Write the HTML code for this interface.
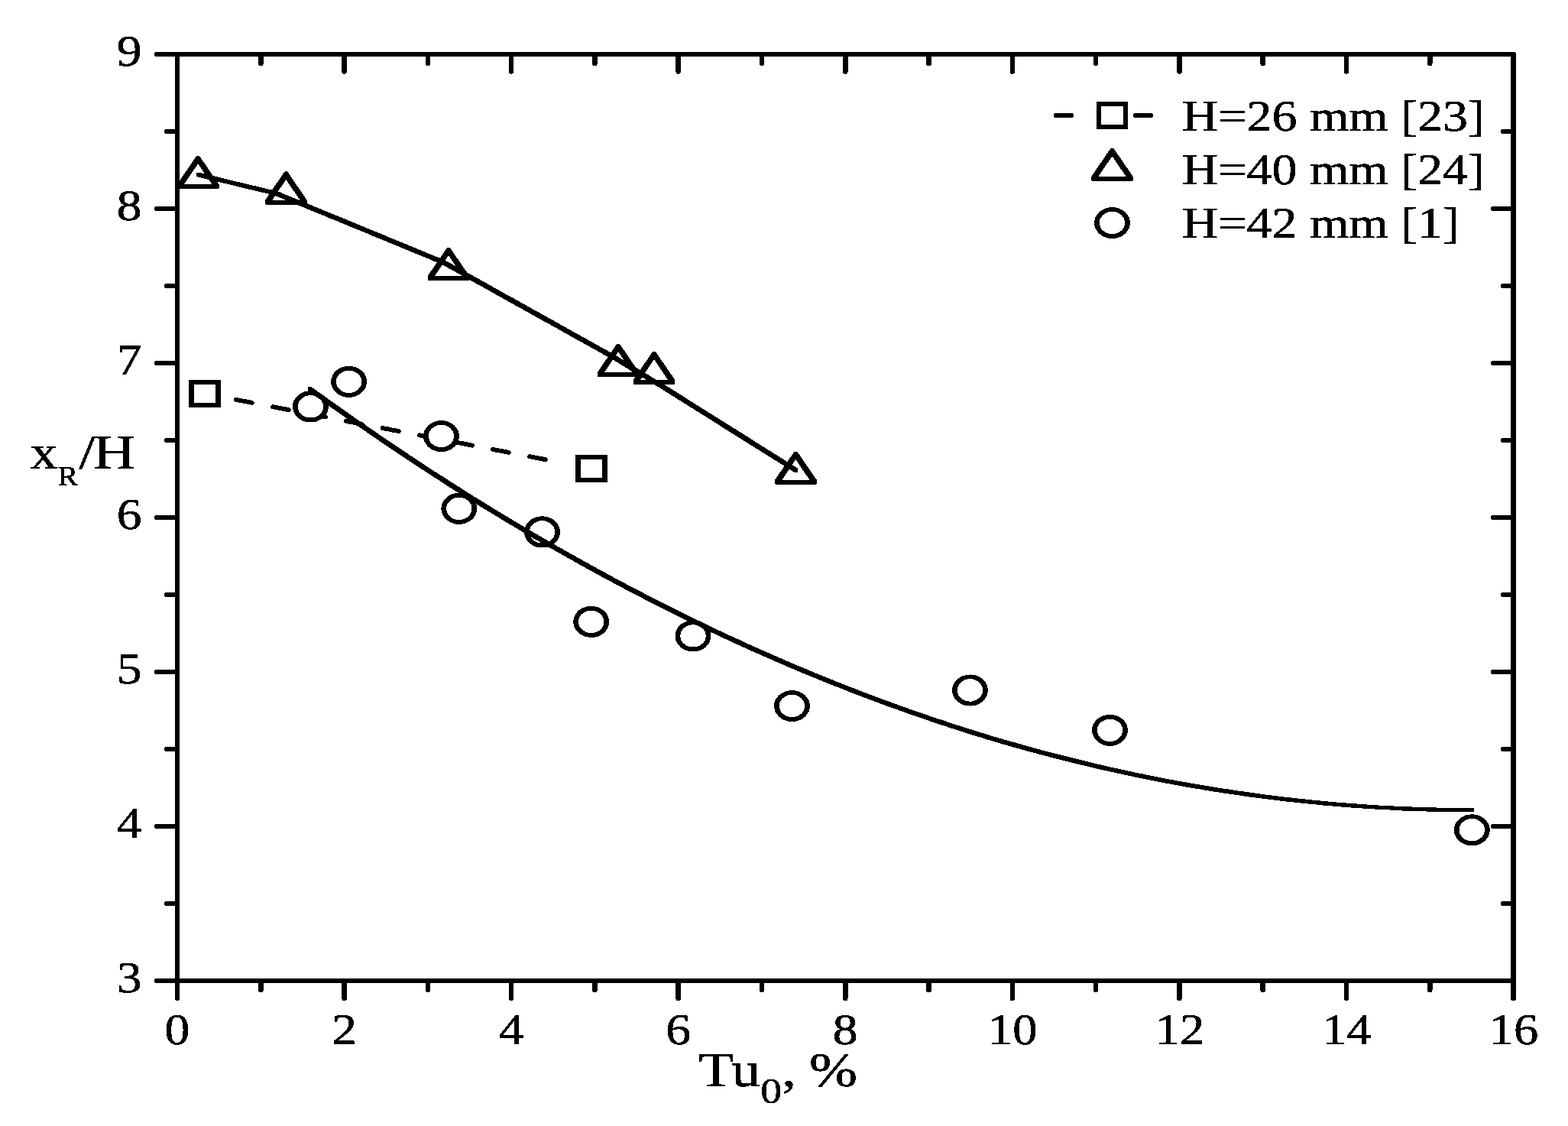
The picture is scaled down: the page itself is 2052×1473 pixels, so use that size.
<!DOCTYPE html>
<html lang="en"><head><meta charset="utf-8"><title>xR/H vs Tu0</title>
<style>html,body{margin:0;padding:0;background:#fff;overflow:hidden}svg{display:block}text{font-family:"Liberation Serif",serif;fill:#000;stroke:#000;stroke-width:0.55px;stroke-linejoin:round}</style>
</head><body>
<svg width="2052" height="1473" viewBox="0 0 2052 1473" role="img" aria-label="Reattachment length versus free-stream turbulence">
<defs><filter id="bw" filterUnits="userSpaceOnUse" x="0" y="0" width="2052" height="1473" color-interpolation-filters="sRGB"><feComponentTransfer><feFuncR type="discrete" tableValues="0 1"/><feFuncG type="discrete" tableValues="0 1"/><feFuncB type="discrete" tableValues="0 1"/></feComponentTransfer></filter></defs>
<g filter="url(#bw)">
<rect width="2052" height="1473" fill="#fff"/>
<g fill="none" stroke="#000" stroke-linecap="round">
<path d="M308.90 522.91L714.20 601.31" stroke-width="5.9" stroke-dasharray="21.39 27.50"/>
</g>
<g fill="#fff" stroke="#000" stroke-width="5.9" stroke-linejoin="miter">
<rect x="-15.25" y="-15.05" width="30.5" height="30.1" transform="translate(268.00 515.00) scale(1.14 1)"/>
<rect x="-15.25" y="-15.05" width="30.5" height="30.1" transform="translate(774.10 612.90) scale(1.14 1)"/>
</g>
<g fill="#000" fill-rule="evenodd" stroke="none">
<path d="M257.20 203.90L261.00 203.90L286.55 241.20L286.55 245.70L285.30 246.90L232.90 246.90L231.65 245.70L231.65 241.20ZM259.10 214.20L277.25 241.00L240.95 241.00Z"/>
<path d="M372.40 224.60L376.20 224.60L401.75 261.90L401.75 266.40L400.50 267.60L348.10 267.60L346.85 266.40L346.85 261.90ZM374.30 234.90L392.45 261.70L356.15 261.70Z"/>
<path d="M585.10 323.90L588.90 323.90L614.45 361.20L614.45 365.70L613.20 366.90L560.80 366.90L559.55 365.70L559.55 361.20ZM587.00 334.20L605.15 361.00L568.85 361.00Z"/>
<path d="M807.20 450.00L811.00 450.00L836.55 487.30L836.55 491.80L835.30 493.00L782.90 493.00L781.65 491.80L781.65 487.30ZM809.10 460.30L827.25 487.10L790.95 487.10Z"/>
<path d="M854.10 460.00L857.90 460.00L883.45 497.30L883.45 501.80L882.20 503.00L829.80 503.00L828.55 501.80L828.55 497.30ZM856.00 470.30L874.15 497.10L837.85 497.10Z"/>
<path d="M1039.50 590.80L1043.30 590.80L1068.85 628.10L1068.85 632.60L1067.60 633.80L1015.20 633.80L1013.95 632.60L1013.95 628.10ZM1041.40 601.10L1059.55 627.90L1023.25 627.90Z"/>
</g>
<g fill="#fff" stroke="#000" stroke-width="5.9">
<circle r="17.6" transform="translate(406.40 531.90) scale(1.14 1)"/>
<circle r="17.6" transform="translate(456.60 499.30) scale(1.14 1)"/>
<circle r="17.6" transform="translate(577.50 570.50) scale(1.14 1)"/>
<circle r="17.6" transform="translate(600.80 665.30) scale(1.14 1)"/>
<circle r="17.6" transform="translate(709.50 695.90) scale(1.14 1)"/>
<circle r="17.6" transform="translate(773.70 813.40) scale(1.14 1)"/>
<circle r="17.6" transform="translate(907.00 831.90) scale(1.14 1)"/>
<circle r="17.6" transform="translate(1036.50 923.50) scale(1.14 1)"/>
<circle r="17.6" transform="translate(1269.40 903.00) scale(1.14 1)"/>
<circle r="17.6" transform="translate(1452.50 955.30) scale(1.14 1)"/>
<circle r="17.6" transform="translate(1926.30 1085.70) scale(1.14 1)"/>
</g>
<g fill="#000" stroke="none">
<path d="M256.6 225.8L261.4 225.8L269.4 227.8L277.4 229.7L285.4 231.6L293.4 233.6L301.4 235.5L309.4 237.4L317.4 239.3L325.4 241.3L333.4 243.2L341.4 245.1L349.4 247.0L357.4 249.0L364.4 250.6L365.4 251.1L373.4 254.4L381.4 257.7L389.4 261.0L397.4 264.3L405.4 267.6L413.4 270.9L421.4 274.2L429.4 277.5L437.4 280.8L445.4 284.0L453.4 287.3L461.4 290.6L469.4 293.9L477.4 297.2L485.4 300.5L493.4 303.8L501.4 307.1L509.4 310.4L517.4 313.7L525.4 317.0L533.4 320.3L541.4 323.6L549.4 326.9L557.4 330.2L565.4 333.5L573.4 336.8L581.4 340.1L583.4 340.9L589.4 344.3L597.4 348.7L605.4 353.2L613.4 357.7L621.4 362.1L629.4 366.6L637.4 371.0L645.4 375.5L653.4 379.9L661.4 384.4L669.4 388.8L677.4 393.3L685.4 397.7L693.4 402.2L701.4 406.7L709.4 411.1L717.4 415.6L725.4 420.0L733.4 424.5L741.4 428.9L749.4 433.4L757.4 437.8L765.4 442.3L773.4 446.7L781.4 451.2L789.4 455.7L797.4 460.1L803.4 463.4L805.4 464.6L813.4 469.4L821.4 474.2L829.4 479.1L837.4 483.8L845.4 488.6L853.4 493.4L861.4 498.2L868.4 502.4L869.4 503.1L877.4 508.1L885.4 513.1L893.4 518.1L901.4 523.2L909.4 528.2L917.4 533.2L925.4 538.2L933.4 543.2L941.4 548.2L949.4 553.3L957.4 558.3L965.4 563.3L973.4 568.3L981.4 573.3L989.4 578.4L997.4 583.4L1005.4 588.4L1013.4 593.4L1021.4 598.4L1029.4 603.4L1037.4 608.5L1044.4 612.9L1044.4 617.9L1039.6 617.9L1032.6 613.6L1024.6 608.5L1016.6 603.5L1008.6 598.5L1000.6 593.5L992.6 588.5L984.6 583.4L976.6 578.4L968.6 573.4L960.6 568.4L952.6 563.4L944.6 558.4L936.6 553.3L928.6 548.3L920.6 543.3L912.6 538.3L904.6 533.3L896.6 528.2L888.6 523.2L880.6 518.2L872.6 513.2L864.6 508.2L863.6 507.6L856.6 503.4L848.6 498.6L840.6 493.8L832.6 488.9L824.6 484.2L816.6 479.4L808.6 474.6L800.6 469.8L798.6 468.6L792.6 465.2L784.6 460.8L776.6 456.3L768.6 451.8L760.6 447.4L752.6 442.9L744.6 438.5L736.6 434.0L728.6 429.6L720.6 425.1L712.6 420.7L704.6 416.2L696.6 411.8L688.6 407.3L680.6 402.8L672.6 398.4L664.6 393.9L656.6 389.5L648.6 385.0L640.6 380.6L632.6 376.1L624.6 371.7L616.6 367.2L608.6 362.8L600.6 358.3L592.6 353.8L584.6 349.4L578.6 346.1L576.6 345.2L568.6 341.9L560.6 338.6L552.6 335.3L544.6 332.0L536.6 328.7L528.6 325.4L520.6 322.1L512.6 318.8L504.6 315.5L496.6 312.2L488.6 308.9L480.6 305.6L472.6 302.3L464.6 299.0L456.6 295.7L448.6 292.4L440.6 289.1L432.6 285.9L424.6 282.6L416.6 279.3L408.6 276.0L400.6 272.7L392.6 269.4L384.6 266.1L376.6 262.8L368.6 259.5L360.6 256.2L359.6 255.8L352.6 254.1L344.6 252.1L336.6 250.2L328.6 248.3L320.6 246.4L312.6 244.4L304.6 242.5L296.6 240.6L288.6 238.7L280.6 236.7L272.6 234.8L264.6 232.9L256.6 231.0Z"/>
<path d="M402.9 506.2L407.7 506.2L415.7 511.9L423.7 517.7L431.7 523.4L439.7 529.1L447.7 534.7L455.7 540.3L463.7 545.9L471.7 551.5L479.7 557.0L487.7 562.5L495.7 568.0L503.7 573.4L511.7 578.8L519.7 584.2L527.7 589.6L535.7 594.9L543.7 600.2L551.7 605.4L559.7 610.7L567.7 615.9L575.7 621.0L583.7 626.2L591.7 631.3L599.7 636.3L607.7 641.4L615.7 646.4L623.7 651.4L631.7 656.3L639.7 661.3L647.7 666.2L655.7 671.0L663.7 675.9L671.7 680.7L679.7 685.4L687.7 690.2L695.7 694.9L703.7 699.6L711.7 704.2L719.7 708.8L727.7 713.4L735.7 718.0L743.7 722.5L751.7 727.0L759.7 731.5L767.7 735.9L775.7 740.3L783.7 744.7L791.7 749.1L799.7 753.4L807.7 757.7L815.7 761.9L823.7 766.2L831.7 770.4L839.7 774.5L847.7 778.7L855.7 782.8L863.7 786.8L871.7 790.9L879.7 794.9L887.7 798.9L895.7 802.8L903.7 806.8L911.7 810.7L919.7 814.5L927.7 818.4L935.7 822.2L943.7 825.9L951.7 829.7L959.7 833.4L967.7 837.1L975.7 840.7L983.7 844.4L991.7 847.9L999.7 851.5L1007.7 855.0L1015.7 858.5L1023.7 862.0L1031.7 865.4L1039.7 868.9L1047.7 872.2L1055.7 875.6L1063.7 878.9L1071.7 882.2L1079.7 885.4L1087.7 888.7L1095.7 891.9L1103.7 895.0L1111.7 898.2L1119.7 901.3L1127.7 904.4L1135.7 907.4L1143.7 910.4L1151.7 913.4L1159.7 916.4L1167.7 919.3L1175.7 922.2L1183.7 925.0L1191.7 927.9L1199.7 930.7L1207.7 933.5L1215.7 936.2L1223.7 938.9L1231.7 941.6L1239.7 944.2L1247.7 946.9L1255.7 949.5L1263.7 952.0L1271.7 954.6L1279.7 957.1L1287.7 959.5L1295.7 962.0L1303.7 964.4L1311.7 966.7L1319.7 969.1L1327.7 971.3L1335.7 973.6L1343.7 975.8L1351.7 978.1L1359.7 980.2L1367.7 982.4L1375.7 984.5L1383.7 986.6L1391.7 988.6L1399.7 990.6L1407.7 992.6L1415.7 994.6L1423.7 996.5L1431.7 998.4L1439.7 1000.3L1447.7 1002.2L1455.7 1004.0L1463.7 1005.7L1471.7 1007.5L1479.7 1009.2L1487.7 1010.9L1495.7 1012.6L1503.7 1014.2L1511.7 1015.8L1519.7 1017.4L1527.7 1018.9L1535.7 1020.4L1543.7 1021.9L1551.7 1023.3L1559.7 1024.8L1567.7 1026.1L1575.7 1027.5L1583.7 1028.8L1591.7 1030.1L1599.7 1031.4L1607.7 1032.6L1615.7 1033.8L1623.7 1035.0L1631.7 1036.1L1639.7 1037.3L1647.7 1038.3L1655.7 1039.4L1663.7 1040.4L1671.7 1041.4L1679.7 1042.4L1687.7 1043.3L1695.7 1044.2L1703.7 1045.1L1711.7 1045.9L1719.7 1046.7L1727.7 1047.5L1735.7 1048.3L1743.7 1049.0L1751.7 1049.7L1759.7 1050.3L1767.7 1051.0L1775.7 1051.6L1783.7 1052.1L1791.7 1052.7L1799.7 1053.2L1807.7 1053.7L1815.7 1054.1L1823.7 1054.5L1831.7 1054.9L1839.7 1055.3L1847.7 1055.6L1855.7 1055.9L1863.7 1056.2L1871.7 1056.4L1879.7 1056.6L1887.7 1056.8L1895.7 1056.9L1903.7 1057.0L1911.7 1057.1L1919.7 1057.2L1927.7 1057.2L1928.9 1057.2L1928.9 1062.3L1924.1 1062.3L1922.9 1062.3L1914.9 1062.3L1906.9 1062.2L1898.9 1062.1L1890.9 1062.0L1882.9 1061.9L1874.9 1061.7L1866.9 1061.5L1858.9 1061.3L1850.9 1061.0L1842.9 1060.7L1834.9 1060.4L1826.9 1060.0L1818.9 1059.6L1810.9 1059.2L1802.9 1058.8L1794.9 1058.3L1786.9 1057.8L1778.9 1057.2L1770.9 1056.7L1762.9 1056.1L1754.9 1055.4L1746.9 1054.8L1738.9 1054.1L1730.9 1053.4L1722.9 1052.6L1714.9 1051.8L1706.9 1051.0L1698.9 1050.2L1690.9 1049.3L1682.9 1048.4L1674.9 1047.5L1666.9 1046.5L1658.9 1045.5L1650.9 1044.5L1642.9 1043.4L1634.9 1042.4L1626.9 1041.2L1618.9 1040.1L1610.9 1038.9L1602.9 1037.7L1594.9 1036.5L1586.9 1035.2L1578.9 1033.9L1570.9 1032.6L1562.9 1031.2L1554.9 1029.9L1546.9 1028.4L1538.9 1027.0L1530.9 1025.5L1522.9 1024.0L1514.9 1022.5L1506.9 1020.9L1498.9 1019.3L1490.9 1017.7L1482.9 1016.0L1474.9 1014.3L1466.9 1012.6L1458.9 1010.8L1450.9 1009.1L1442.9 1007.3L1434.9 1005.4L1426.9 1003.5L1418.9 1001.6L1410.9 999.7L1402.9 997.7L1394.9 995.7L1386.9 993.7L1378.9 991.7L1370.9 989.6L1362.9 987.5L1354.9 985.3L1346.9 983.2L1338.9 980.9L1330.9 978.7L1322.9 976.4L1314.9 974.2L1306.9 971.8L1298.9 969.5L1290.9 967.1L1282.9 964.6L1274.9 962.2L1266.9 959.7L1258.9 957.1L1250.9 954.6L1242.9 952.0L1234.9 949.3L1226.9 946.7L1218.9 944.0L1210.9 941.3L1202.9 938.6L1194.9 935.8L1186.9 933.0L1178.9 930.1L1170.9 927.3L1162.9 924.4L1154.9 921.5L1146.9 918.5L1138.9 915.5L1130.9 912.5L1122.9 909.5L1114.9 906.4L1106.9 903.3L1098.9 900.1L1090.9 897.0L1082.9 893.8L1074.9 890.5L1066.9 887.3L1058.9 884.0L1050.9 880.7L1042.9 877.3L1034.9 874.0L1026.9 870.5L1018.9 867.1L1010.9 863.6L1002.9 860.1L994.9 856.6L986.9 853.0L978.9 849.5L970.9 845.8L962.9 842.2L954.9 838.5L946.9 834.8L938.9 831.0L930.9 827.3L922.9 823.5L914.9 819.6L906.9 815.8L898.9 811.9L890.9 807.9L882.9 804.0L874.9 800.0L866.9 796.0L858.9 791.9L850.9 787.9L842.9 783.8L834.9 779.6L826.9 775.5L818.9 771.3L810.9 767.0L802.9 762.8L794.9 758.5L786.9 754.2L778.9 749.8L770.9 745.4L762.9 741.0L754.9 736.6L746.9 732.1L738.9 727.6L730.9 723.1L722.9 718.5L714.9 713.9L706.9 709.3L698.9 704.7L690.9 700.0L682.9 695.3L674.9 690.5L666.9 685.8L658.9 681.0L650.9 676.1L642.9 671.3L634.9 666.4L626.9 661.4L618.9 656.5L610.9 651.5L602.9 646.5L594.9 641.4L586.9 636.4L578.9 631.3L570.9 626.1L562.9 621.0L554.9 615.8L546.9 610.5L538.9 605.3L530.9 600.0L522.9 594.7L514.9 589.3L506.9 583.9L498.9 578.5L490.9 573.1L482.9 567.6L474.9 562.1L466.9 556.6L458.9 551.0L450.9 545.4L442.9 539.8L434.9 534.2L426.9 528.5L418.9 522.8L410.9 517.0L402.9 511.3Z"/>
</g>
<g fill="none" stroke="#000" stroke-width="6.0" stroke-linecap="round">
<path d="M232.0 71.0H1980.5V1283.0H232.0Z" stroke-linejoin="round"/>
<path d="M232.00 1283.0v23.0M232.00 71.0v22.5" stroke-width="6.6"/>
<path d="M341.28 1283.0v12.0M341.28 71.0v12.0" stroke-width="6.6"/>
<path d="M450.56 1283.0v23.0M450.56 71.0v22.5" stroke-width="6.6"/>
<path d="M559.84 1283.0v12.0M559.84 71.0v12.0" stroke-width="6.6"/>
<path d="M669.12 1283.0v23.0M669.12 71.0v22.5" stroke-width="6.6"/>
<path d="M778.41 1283.0v12.0M778.41 71.0v12.0" stroke-width="6.6"/>
<path d="M887.69 1283.0v23.0M887.69 71.0v22.5" stroke-width="6.6"/>
<path d="M996.97 1283.0v12.0M996.97 71.0v12.0" stroke-width="6.6"/>
<path d="M1106.25 1283.0v23.0M1106.25 71.0v22.5" stroke-width="6.6"/>
<path d="M1215.53 1283.0v12.0M1215.53 71.0v12.0" stroke-width="6.6"/>
<path d="M1324.81 1283.0v23.0M1324.81 71.0v22.5" stroke-width="6.6"/>
<path d="M1434.09 1283.0v12.0M1434.09 71.0v12.0" stroke-width="6.6"/>
<path d="M1543.38 1283.0v23.0M1543.38 71.0v22.5" stroke-width="6.6"/>
<path d="M1652.66 1283.0v12.0M1652.66 71.0v12.0" stroke-width="6.6"/>
<path d="M1761.94 1283.0v23.0M1761.94 71.0v22.5" stroke-width="6.6"/>
<path d="M1871.22 1283.0v12.0M1871.22 71.0v12.0" stroke-width="6.6"/>
<path d="M1980.50 1283.0v23.0M1980.50 71.0v22.5" stroke-width="6.6"/>
<path d="M232.0 1283.00h-27.0M1980.5 1283.00h-27.0"/>
<path d="M232.0 1182.00h-14.0M1980.5 1182.00h-14.0"/>
<path d="M232.0 1081.00h-27.0M1980.5 1081.00h-27.0"/>
<path d="M232.0 980.00h-14.0M1980.5 980.00h-14.0"/>
<path d="M232.0 879.00h-27.0M1980.5 879.00h-27.0"/>
<path d="M232.0 778.00h-14.0M1980.5 778.00h-14.0"/>
<path d="M232.0 677.00h-27.0M1980.5 677.00h-27.0"/>
<path d="M232.0 576.00h-14.0M1980.5 576.00h-14.0"/>
<path d="M232.0 475.00h-27.0M1980.5 475.00h-27.0"/>
<path d="M232.0 374.00h-14.0M1980.5 374.00h-14.0"/>
<path d="M232.0 273.00h-27.0M1980.5 273.00h-27.0"/>
<path d="M232.0 172.00h-14.0M1980.5 172.00h-14.0"/>
<path d="M232.0 71.00h-27.0M1980.5 71.00h-27.0"/>
</g>
<text transform="translate(232.00 1366.30) scale(1.14 1)" font-size="57.6" text-anchor="middle">0</text>
<text transform="translate(450.56 1366.30) scale(1.14 1)" font-size="57.6" text-anchor="middle">2</text>
<text transform="translate(669.12 1366.30) scale(1.14 1)" font-size="57.6" text-anchor="middle">4</text>
<text transform="translate(887.69 1366.30) scale(1.14 1)" font-size="57.6" text-anchor="middle">6</text>
<text transform="translate(1106.25 1366.30) scale(1.14 1)" font-size="57.6" text-anchor="middle">8</text>
<text transform="translate(1325.31 1366.30) scale(1.12 1)" font-size="57.6" text-anchor="middle">10</text>
<text transform="translate(1543.88 1366.30) scale(1.12 1)" font-size="57.6" text-anchor="middle">12</text>
<text transform="translate(1762.44 1366.30) scale(1.12 1)" font-size="57.6" text-anchor="middle">14</text>
<text transform="translate(1981.00 1366.30) scale(1.12 1)" font-size="57.6" text-anchor="middle">16</text>
<text transform="translate(185.50 1297.80) scale(1.14 1)" font-size="57.6" text-anchor="end">3</text>
<text transform="translate(185.50 1095.80) scale(1.14 1)" font-size="57.6" text-anchor="end">4</text>
<text transform="translate(185.50 893.80) scale(1.14 1)" font-size="57.6" text-anchor="end">5</text>
<text transform="translate(185.50 691.80) scale(1.14 1)" font-size="57.6" text-anchor="end">6</text>
<text transform="translate(185.50 489.80) scale(1.14 1)" font-size="57.6" text-anchor="end">7</text>
<text transform="translate(185.50 287.80) scale(1.14 1)" font-size="57.6" text-anchor="end">8</text>
<text transform="translate(185.50 85.80) scale(1.14 1)" font-size="57.6" text-anchor="end">9</text>
<text transform="translate(1546.50 170.50) scale(1.146 1)" font-size="57.6" text-anchor="start">H=26 mm [23]</text>
<text transform="translate(1546.50 240.70) scale(1.146 1)" font-size="57.6" text-anchor="start">H=40 mm [24]</text>
<text transform="translate(1546.50 310.60) scale(1.146 1)" font-size="57.6" text-anchor="start">H=42 mm [1]</text>
<g fill="none" stroke="#000" stroke-width="5.6" stroke-linecap="round">
<path d="M1382 151H1402M1486 151H1506" stroke-width="6"/>
</g>
<g fill="#fff" stroke="#000" stroke-width="5.9" stroke-linejoin="miter">
<rect x="-15.25" y="-15.05" width="30.5" height="30.1" transform="translate(1455.50 151.00) scale(1.14 1)"/>
<circle r="17.6" transform="translate(1455.50 291.50) scale(1.14 1)"/>
</g>
<g fill="#000" fill-rule="evenodd" stroke="none">
<path d="M1453.55 194.00L1457.35 194.00L1482.90 231.30L1482.90 235.80L1481.65 237.00L1429.25 237.00L1428.00 235.80L1428.00 231.30ZM1455.45 204.30L1473.60 231.10L1437.30 231.10Z"/>
</g>
<text transform="translate(39.5 612.8) scale(1.14 1)" font-size="63.0">x<tspan font-size="35" dy="22">R</tspan></text>
<text transform="translate(103.60 612.80) scale(1.2 1)" font-size="63.0" text-anchor="start">/<tspan dx="-2">H</tspan></text>
<text transform="translate(914 1421.2) scale(1.2 1)" font-size="63.0">Tu<tspan font-size="46.5" dy="21.4">0</tspan><tspan dy="-21.4">, </tspan><tspan dx="-1.6">%</tspan></text>
</g>
</svg>
</body></html>
